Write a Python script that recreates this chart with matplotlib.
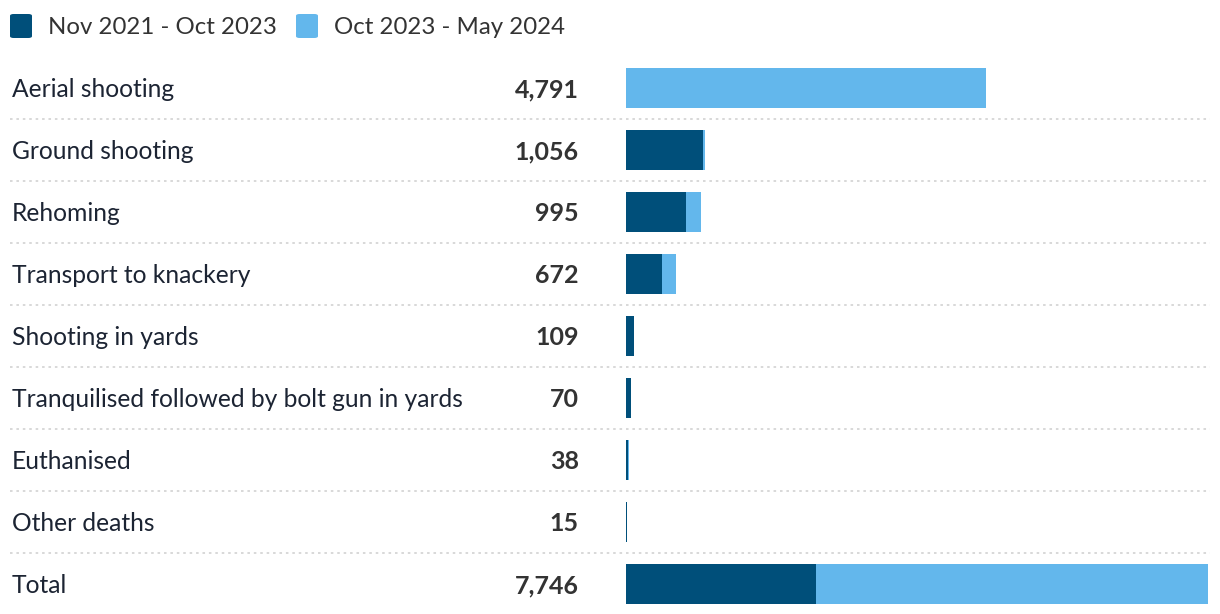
import matplotlib.pyplot as plt
from matplotlib.transforms import blended_transform_factory
from matplotlib.patches import FancyBboxPatch

categories = [
    "Aerial shooting",
    "Ground shooting",
    "Rehoming",
    "Transport to knackery",
    "Shooting in yards",
    "Tranquilised followed by bolt gun in yards",
    "Euthanised",
    "Other deaths",
    "Total",
]
totals = [4791, 1056, 995, 672, 109, 70, 38, 15, 7746]
early = [0, 1030, 800, 480, 109, 70, 20, 15, 2524]  # Nov 2021 - Oct 2023
late = [4791, 26, 195, 192, 0, 0, 18, 0, 5222]  # Oct 2023 - May 2024
series_names = ["Nov 2021 - Oct 2023", "Oct 2023 - May 2024"]

dark, light = "#004f7a", "#63b7ec"
W, H = 1220, 614
plt.rcParams["font.family"] = ["Lato", "DejaVu Sans"]

fig = plt.figure(figsize=(W / 100, H / 100), dpi=100)
ax = fig.add_axes([0, 0, 1, 1])
ax.axis("off")

# map pixels: bar start at 626px, total bar ends at 1208px
x0, x1 = 626, 1208
upp = totals[-1] / (x1 - x0)
ax.set_xlim(-x0 * upp, (W - x0) * upp)
row0, step = 88, 62
ax.set_ylim((H - row0) / step, -row0 / step)

rows = list(range(len(categories)))
ax.barh(rows, early, height=40 / step, color=dark, linewidth=0)
ax.barh(rows, late, left=early, height=40 / step, color=light, linewidth=0)

tr = blended_transform_factory(ax.transAxes, ax.transData)
dy = 1.5 / step
for i, (name, tot) in enumerate(zip(categories, totals)):
    ax.text(12 / W, i + dy, name, transform=tr, ha="left", va="center",
            fontsize=17.7, color="#1c2433")
    ax.text(579 / W, i + dy, f"{tot:,}", transform=tr, ha="right", va="center",
            fontsize=18, fontweight="bold", color="#333333")
    if i < len(categories) - 1:
        ax.plot([10 / W, 1210 / W], [i + 0.5, i + 0.5], transform=tr,
                color="#d8d8d8", linewidth=1.4, linestyle=(0, (1.3, 2.0)))

# legend
for (lx, tx), name, c in zip([(10, 48), (296, 334)], series_names, [dark, light]):
    fig.patches.append(FancyBboxPatch((lx / W, 1 - 38 / H), 22 / W, 24 / H,
                                      boxstyle="round,pad=0,rounding_size=0.003",
                                      transform=fig.transFigure, color=c,
                                      linewidth=0))
    fig.text(tx / W, 1 - 28 / H, name, ha="left", va="center",
             fontsize=17.3, color="#333333")

fig.savefig("out.png", dpi=100)
